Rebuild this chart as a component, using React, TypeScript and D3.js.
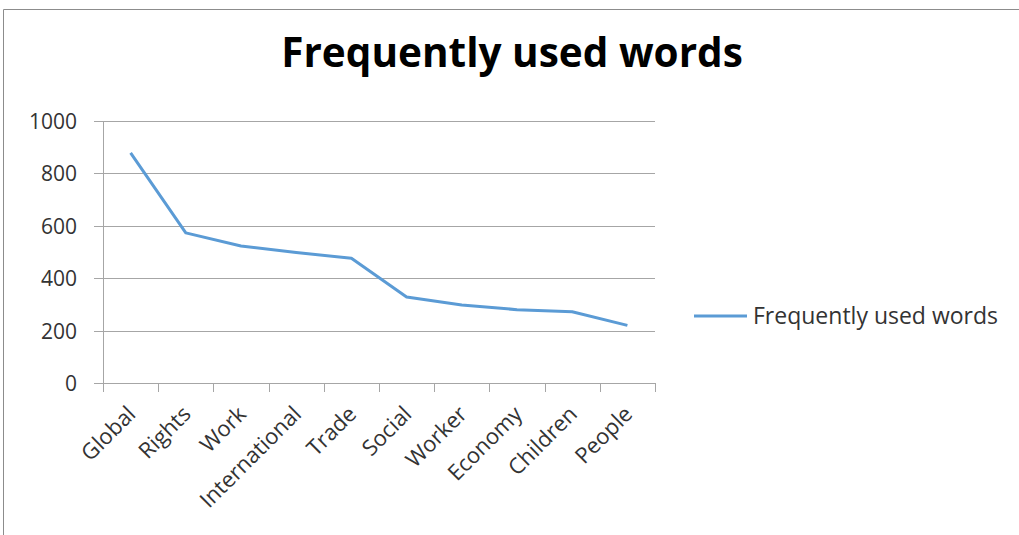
import React, { useEffect, useRef } from "react";
import * as d3 from "d3";

const categories = ["Global", "Rights", "Work", "International", "Trade", "Social", "Worker", "Economy", "Children", "People"];
const counts = [878, 573, 523, 498, 476, 328, 298, 280, 272, 220];
const yTicks = [0, 200, 400, 600, 800, 1000];
const seriesName = "Frequently used words";
const chartTitle = "Frequently used words";

const W = 1019;
const H = 535;
const FONT = "'Open Sans', Lato, sans-serif";
const LINE_COLOR = "#5B9BD5";
const GRID_COLOR = "#A6A6A6";

export default function App() {
  const ref = useRef<SVGSVGElement | null>(null);

  useEffect(() => {
    const svg = d3.select(ref.current);
    svg.selectAll("*").remove();

    const plot = { left: 103, right: 655, top: 121, bottom: 383 };

    const x = d3.scaleBand<string>().domain(categories).range([plot.left, plot.right]);
    const y = d3.scaleLinear().domain([0, 1000]).range([plot.bottom, plot.top]);

    svg.append("rect").attr("width", W).attr("height", H).attr("fill", "#fff");

    // chart frame (top and left edges)
    svg.append("line").attr("x1", 3.5).attr("x2", W).attr("y1", 9.5).attr("y2", 9.5).attr("stroke", "#8c8c8c");
    svg.append("line").attr("x1", 3.5).attr("x2", 3.5).attr("y1", 9.5).attr("y2", H).attr("stroke", "#8c8c8c");

    svg.append("text")
      .attr("x", 512)
      .attr("y", 67)
      .attr("text-anchor", "middle")
      .attr("font-family", FONT)
      .attr("font-weight", 700)
      .attr("font-size", 40.5)
      .attr("fill", "#000")
      .text(chartTitle);

    // gridlines + y ticks
    const gy = svg.append("g");
    yTicks.forEach((t) => {
      const yy = Math.round(y(t)) + 0.5;
      gy.append("line").attr("x1", plot.left - 9).attr("x2", plot.right).attr("y1", yy).attr("y2", yy).attr("stroke", GRID_COLOR);
      gy.append("text")
        .attr("x", 77)
        .attr("y", yy)
        .attr("dy", "0.35em")
        .attr("text-anchor", "end")
        .attr("font-family", FONT)
        .attr("font-size", 21)
        .attr("fill", "#333")
        .text(String(t));
    });

    // y axis line
    svg.append("line")
      .attr("x1", plot.left + 0.5).attr("x2", plot.left + 0.5)
      .attr("y1", plot.top).attr("y2", plot.bottom + 0.5)
      .attr("stroke", GRID_COLOR);

    // x tick marks at category boundaries
    const bounds = categories.map((c) => x(c)!).concat([plot.right]);
    bounds.forEach((bx) => {
      const xx = Math.round(bx) + 0.5;
      svg.append("line").attr("x1", xx).attr("x2", xx).attr("y1", plot.bottom).attr("y2", plot.bottom + 9).attr("stroke", GRID_COLOR);
    });

    // rotated category labels
    categories.forEach((c) => {
      const cx = x(c)! + x.bandwidth() / 2;
      svg.append("text")
        .attr("transform", `translate(${cx + 1},${plot.bottom + 27}) rotate(-45)`)
        .attr("text-anchor", "end")
        .attr("dy", "0.35em")
        .attr("font-family", FONT)
        .attr("font-size", 22)
        .attr("fill", "#333")
        .text(c);
    });

    const line = d3.line<number>()
      .x((_, i) => x(categories[i])! + x.bandwidth() / 2)
      .y((d) => y(d));

    svg.append("path")
      .datum(counts)
      .attr("d", line)
      .attr("fill", "none")
      .attr("stroke", LINE_COLOR)
      .attr("stroke-width", 3)
      .attr("stroke-linejoin", "round");

    // legend
    svg.append("line").attr("x1", 694).attr("x2", 747).attr("y1", 316).attr("y2", 316).attr("stroke", LINE_COLOR).attr("stroke-width", 3);
    svg.append("text")
      .attr("x", 753)
      .attr("y", 316)
      .attr("dy", "0.35em")
      .attr("font-family", FONT)
      .attr("font-size", 23)
      .attr("fill", "#333")
      .text(seriesName);
  }, []);

  return (
    <svg
      ref={ref}
      width={W}
      height={H}
      style={{ position: "absolute", left: 0, top: 0, display: "block" }}
    />
  );
}
